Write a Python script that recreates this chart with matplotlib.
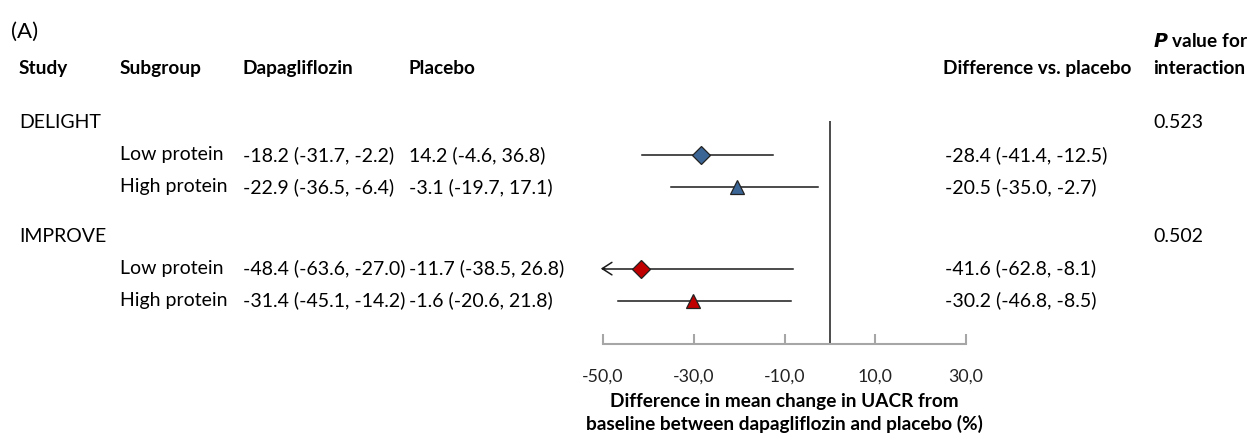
import matplotlib.pyplot as plt
from matplotlib.transforms import blended_transform_factory

plt.rcParams['font.family'] = ['Lato', 'DejaVu Sans']

# data
studies = ["DELIGHT", "IMPROVE"]
p_interaction = ["0.523", "0.502"]
subgroups = ["Low protein", "High protein"]
dapa_text = ["-18.2 (-31.7, -2.2)", "-22.9 (-36.5, -6.4)",
             "-48.4 (-63.6, -27.0)", "-31.4 (-45.1, -14.2)"]
placebo_text = ["14.2 (-4.6, 36.8)", "-3.1 (-19.7, 17.1)",
                "-11.7 (-38.5, 26.8)", "-1.6 (-20.6, 21.8)"]
diff_est = [-28.4, -20.5, -41.6, -30.2]
diff_lo = [-41.4, -35.0, -62.8, -46.8]
diff_hi = [-12.5, -2.7, -8.1, -8.5]
xticks = [-50, -30, -10, 10, 30]

study_colors = ["#3A6595", "#C00000"]
sub_markers = ["D", "^"]

fig = plt.figure(figsize=(12.5, 4.33), dpi=100)
xmin, xmax = -50, 30
extra = 1.6
ppu = 363 / (xmax - xmin)
left_px = 603 - extra * ppu
ax = fig.add_axes([left_px / 1250, 1 - 344 / 433, (966 - left_px) / 1250, 324 / 433])
ax.set_xlim(xmin - extra, xmax)
ax.set_ylim(6.9, -3.2)

for s in ["top", "left", "right"]:
    ax.spines[s].set_visible(False)
ax.spines["bottom"].set_color("#A6A6A6")
ax.spines["bottom"].set_linewidth(1.5)
ax.spines["bottom"].set_bounds(xmin, xmax)
ax.set_yticks([])
ax.set_xticks(xticks)
ax.set_xticklabels([f"{t:.1f}".replace(".", ",") for t in xticks])
ax.tick_params(axis="x", direction="in", length=7, width=1.5, color="#A6A6A6",
               labelsize=12.8, pad=18, labelcolor="#222222")

fs = 14
fsb = 13.7
tr = blended_transform_factory(fig.transFigure, ax.transData)
fx = lambda px: px / 1250

# header
head_y = -1.7
fig.text(fx(11), 1 - 32 / 433, "(A)", fontsize=16, va="center")
for px, lab in [(19, "Study"), (120, "Subgroup"), (243, "Dapagliflozin"),
                (409, "Placebo"), (943, "Difference vs. placebo")]:
    ax.text(fx(px), head_y, lab, transform=tr, fontsize=fsb, fontweight="bold",
            va="center", ha="left")
ax.text(fx(1153), head_y - 0.85, r"$\bfit{P}$ value for", transform=tr, fontsize=fsb,
        fontweight="bold", va="center", ha="left")
ax.text(fx(1153), head_y, "interaction", transform=tr, fontsize=fsb,
        fontweight="bold", va="center", ha="left")

study_y = [0, 3.55]
k = 0
for i, study in enumerate(studies):
    y0 = study_y[i]
    ax.text(fx(19), y0, study, transform=tr, fontsize=fs, va="center")
    ax.text(fx(1153), y0, p_interaction[i], transform=tr, fontsize=fs, va="center")
    for j, sub in enumerate(subgroups):
        y = y0 + 1 + j
        ax.text(fx(120), y, sub, transform=tr, fontsize=fs, va="center")
        ax.text(fx(243), y, dapa_text[k], transform=tr, fontsize=fs, va="center")
        ax.text(fx(409), y, placebo_text[k], transform=tr, fontsize=fs, va="center")
        ax.text(fx(945), y, f"{diff_est[k]:.1f} ({diff_lo[k]:.1f}, {diff_hi[k]:.1f})",
                transform=tr, fontsize=fs, va="center")
        lo = diff_lo[k]
        if lo < xmin:
            ax.plot([xmin, diff_hi[k]], [y, y], color="#1a1a1a", lw=1.1)
            ax.annotate("", xy=(xmin - 1.1, y), xytext=(xmin + 1, y),
                        arrowprops=dict(arrowstyle="->,head_length=0.7,head_width=0.45",
                                        color="#1a1a1a", lw=1.1))
        else:
            ax.plot([lo, diff_hi[k]], [y, y], color="#1a1a1a", lw=1.1)
        ax.plot(diff_est[k], y, marker=sub_markers[j], color=study_colors[i],
                markersize=9 if j == 0 else 10.5, markeredgecolor="#222222",
                markeredgewidth=0.9, zorder=3)
        k += 1

ax.vlines(0, -0.05, 6.9, color="#1a1a1a", lw=1.1)

fig.text(784 / 1250, 1 - 402 / 433, "Difference in mean change in UACR from",
         fontsize=fsb, fontweight="bold", ha="center", va="center")
fig.text(784 / 1250, 1 - 424 / 433, "baseline between dapagliflozin and placebo (%)",
         fontsize=fsb, fontweight="bold", ha="center", va="center")

fig.savefig("out.png", dpi=100)
